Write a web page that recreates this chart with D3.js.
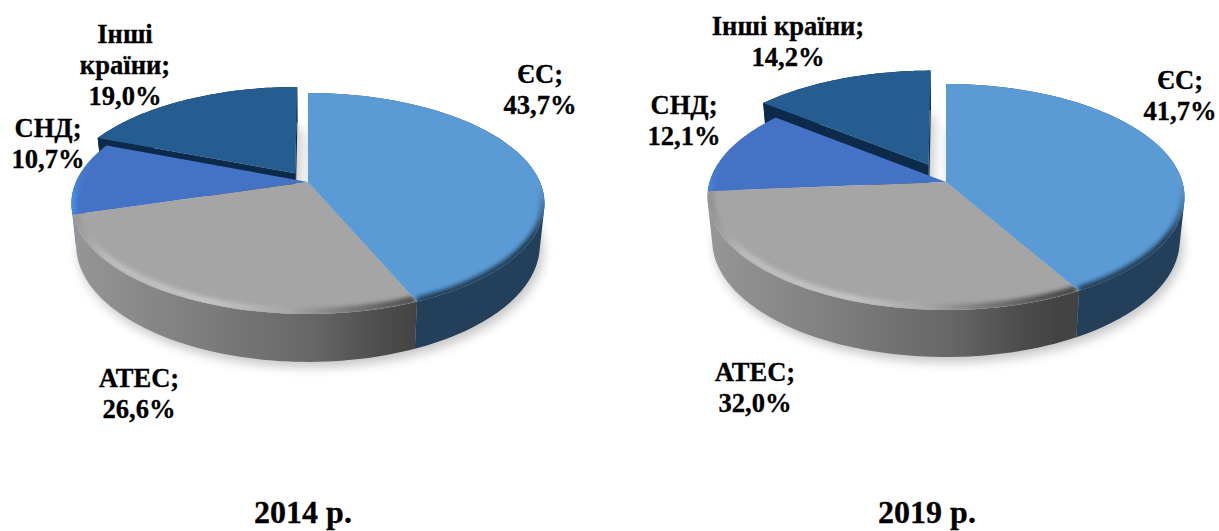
<!DOCTYPE html>
<html><head><meta charset="utf-8">
<script src="https://cdn.jsdelivr.net/npm/d3@7"></script>
<style>html,body{margin:0;padding:0;background:#fff}svg{display:block}
text{font-family:"Liberation Serif",serif;font-weight:700;fill:#000;stroke:#000;stroke-width:.3;text-anchor:middle}</style>
</head><body><svg id="c" width="1219" height="531"></svg>
<script>
const categories = ["ЄС","АТЕС","СНД","Інші країни"];
const values2014 = [43.7,26.6,10.7,19.0];
const values2019 = [41.7,32.0,12.1,14.2];
const years = ["2014 р.","2019 р."];
const topColors = ["#5b9bd5","#a5a5a5","#4472c4","#265d90"];
const fmt = v => d3.format(".1f")(v).replace(".",",")+"%";

const svg = d3.select("#c"), defs = svg.append("defs");
const blur=(id,s)=>defs.append("filter").attr("id",id).attr("x","-20%").attr("y","-20%").attr("width","140%").attr("height","140%")
  .append("feGaussianBlur").attr("stdDeviation",s);
blur("bs",6); blur("br",2.2);
const line = d3.line();

function gradient(id,x0,x1,stops,vertical){
  const g=defs.append("linearGradient").attr("id",id).attr("gradientUnits","userSpaceOnUse")
    .attr("x1",vertical?0:x0).attr("x2",vertical?0:x1).attr("y1",vertical?x0:0).attr("y2",vertical?x1:0);
  stops.forEach(s=>g.append("stop").attr("offset",s[0]).attr("stop-color",s[1]).attr("stop-opacity",s[2]===undefined?1:s[2]));
  return `url(#${id})`;
}

function drawPie(key,values,geo,labels,yearLabel){
  const {cx,cy,R,B,p,D,explode}=geo;
  const arcs=d3.pie().sort(null).startAngle(0).endAngle(2*Math.PI)(values);
  const proj=(u,v,z=0)=>{const w=1-p*v,s=1-.02*z;return [cx+R*u/w*s, cy+B*v/w*s+D*z/w];};
  const edge=(a,rho,o)=>[rho*Math.sin(a)+o[0], -rho*Math.cos(a)+o[1]];
  const samples=(a0,a1)=>d3.range(0,61).map(i=>a0+(a1-a0)*i/60);
  const g=svg.append("g");
  const sideFills=[
    "#243f5a",
    gradient(key+"s1",cx-236,cx+110,[[0,"#969696"],[.35,"#7f7f7f"],[.7,"#666666"],[.9,"#4c4c4c"],[1,"#434343"]]),
    "#3f7fdc","#0c2a4a"];
  const offs=arcs.map((d,i)=>{
    if(i!==3) return [0,0];
    const m=(d.startAngle+d.endAngle)/2;
    return [explode*Math.sin(m),-explode*Math.cos(m)];
  });
  // soft shadow under the whole pie
  const sh=g.append("g").attr("filter","url(#bs)").attr("transform","translate(3,5)").attr("fill","#000").attr("opacity",.24);
  arcs.forEach((d,i)=>{
    const o=offs[i],ts=samples(d.startAngle,d.endAngle);
    sh.append("path").attr("d",line([proj(o[0],o[1],1),...ts.map(a=>{const e=edge(a,1,o);return proj(e[0],e[1],1);})])+"Z");
  });
  // exploded slice first, then the others
  [3,2,1,0].forEach(i=>{
    const d=arcs[i],o=offs[i],ts=samples(d.startAngle,d.endAngle);
    const sg=g.append("g");
    // cut faces exist only where a slice stands apart from the pie
    if(i===3){
      [d.startAngle,d.endAngle].forEach(a=>{
        const e=edge(a,1,o);
        sg.append("path").attr("fill","#0c2a4a")
          .attr("d",line([proj(o[0],o[1],0),proj(e[0],e[1],0),proj(e[0],e[1],1),proj(o[0],o[1],1)])+"Z");
      });
    }
    // outer wall: one consistently wound quad per arc step, so the silhouette stays filled
    const rimTop=ts.map(a=>{const e=edge(a,1,o);return proj(e[0],e[1],0);});
    const rimBot=ts.map(a=>{const e=edge(a,1,o);return proj(e[0],e[1],1);});
    const wall=d3.range(rimTop.length-1).map(k=>{
      const q=[rimTop[k],rimTop[k+1],rimBot[k+1],rimBot[k]];
      if(d3.polygonArea(q)<0) q.reverse();
      return line(q)+"Z";
    }).join("");
    sg.append("path").attr("fill",sideFills[i]).attr("d",wall);
    // top face
    const topD=line([proj(o[0],o[1],0),...rimTop])+"Z";
    sg.append("path").attr("fill",topColors[i]).attr("d",topD);
    defs.append("clipPath").attr("id",key+"c"+i).append("path").attr("d",topD);
    // bevel along the rim
    const bev=g.append("g").attr("clip-path",`url(#${key}c${i})`);
    const rimLine=rho=>line(ts.map(a=>{const e=edge(a,rho,o);return proj(e[0],e[1],0);}));
    if(i===0){
      bev.append("path").attr("d",rimLine(1)).attr("fill","none").attr("filter","url(#br)").attr("stroke-width",9)
        .attr("stroke",gradient(key+"r0",cy+5,cy+55,[[0,"#243f5a",0],[1,"#243f5a",1]],true));
    } else if(i===1){
      bev.append("path").attr("d",rimLine(.985)).attr("fill","none").attr("filter","url(#br)").attr("stroke-width",7)
        .attr("stroke",gradient(key+"r1",cx-236,cx+110,[[0,"#909090"],[.1,"#bdbdbd"],[.4,"#c6c6c6"],[.62,"#a8a8a8"],[.82,"#6e6e6e"],[1,"#454545"]]));
    } else if(i===2){
      bev.append("path").attr("d",rimLine(1)).attr("fill","none").attr("filter","url(#br)").attr("stroke-width",9)
        .attr("stroke",gradient(key+"r2",cy-20,cy+40,[[0,"#4a8be6",0],[.6,"#4a8be6",1],[1,"#4a8be6",1]],true));
    }
  });
  // labels
  labels.forEach(l=>{
    const t=g.append("text").attr("font-size",26.6);
    l.lines.forEach((s,j)=>t.append("tspan").attr("x",l.x).attr("y",l.y+j*31).text(s));
  });
  svg.append("text").attr("font-size",32).attr("x",yearLabel[0]).attr("y",yearLabel[1]).text(yearLabel[2]);
}

drawPie("a",values2014,{cx:308,cy:182,R:232,B:106.3,p:.1946,D:40.7,explode:.1},[
  {x:540,y:83,lines:[categories[0]+";",fmt(values2014[0])]},
  {x:139,y:387,lines:[categories[1]+";",fmt(values2014[1])]},
  {x:48,y:137,lines:[categories[2]+";",fmt(values2014[2])]},
  {x:125,y:43,lines:["Інші","країни;",fmt(values2014[3])]}
],[303,523,years[0]]);

drawPie("b",values2019,{cx:946,cy:182,R:236.4,B:111,p:.1327,D:43,explode:.175},[
  {x:1180,y:89,lines:[categories[0]+";",fmt(values2019[0])]},
  {x:755,y:381,lines:[categories[1]+";",fmt(values2019[1])]},
  {x:684,y:114,lines:[categories[2]+";",fmt(values2019[2])]},
  {x:788,y:35,lines:[categories[3]+";",fmt(values2019[3])]}
],[927,523,years[1]]);
</script></body></html>
